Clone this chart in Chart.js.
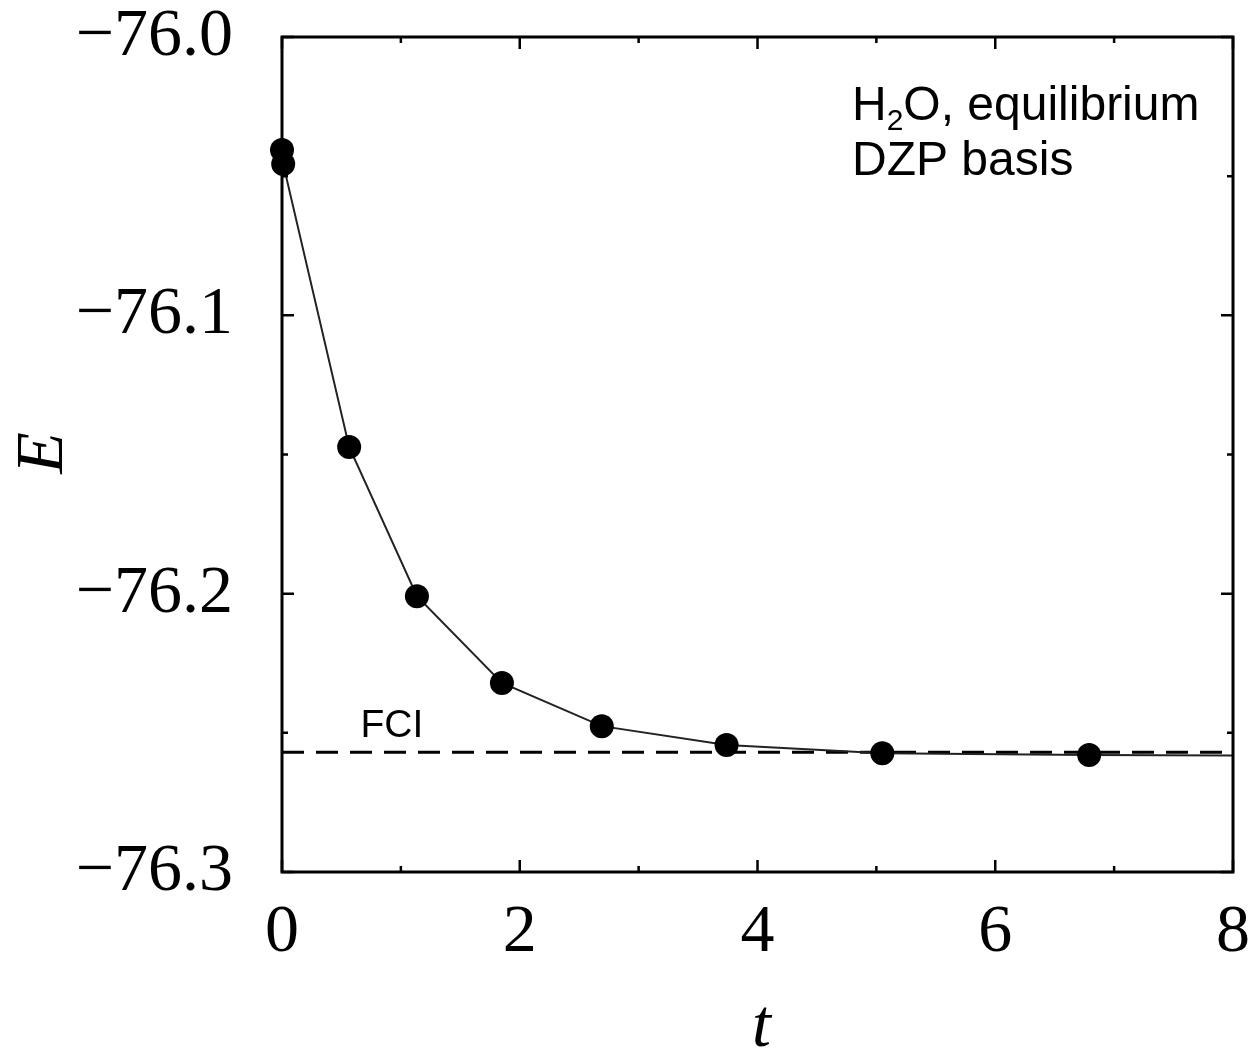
<!DOCTYPE html>
<html>
<head>
<meta charset="utf-8">
<script src="https://cdn.jsdelivr.net/npm/chart.js@4.4.1/dist/chart.umd.min.js"></script>
<style>
  html, body { margin: 0; padding: 0; background: #fff; }
  #wrap { width: 1251px; height: 1051px; }
</style>
</head>
<body>
<div id="wrap"><canvas id="energyChart" width="1251" height="1051"></canvas></div>
<script>
// energy vs t, H2O at equilibrium geometry (DZP)
const tValues = [0.0, 0.01, 0.565, 1.135, 1.85, 2.69, 3.74, 5.05, 6.79, 8.0];
const energies = [-76.0406, -76.0456, -76.1473, -76.2009, -76.2321, -76.2476, -76.2544, -76.2573, -76.2580, -76.2581];
const markerShown = [1, 1, 1, 1, 1, 1, 1, 1, 1, 0];
const fciEnergy = -76.2570;
const fciRange = [0, 8];
const xTicks = [0, 2, 4, 6, 8];
const yTicks = [-76.0, -76.1, -76.2, -76.3];

const serif = "'Liberation Serif', 'Times New Roman', serif";
const sans = "'Liberation Sans', Arial, sans-serif";

function fmtE(v) {
	return v.toFixed(1).replace("-", "\u2212");
}

// frame with inward ticks on all four sides
const framePlugin = {
	id: "frame",
	afterDraw(chart) {
		const { ctx, chartArea: a, scales } = chart;
		const xs = scales.x, ys = scales.y;
		ctx.save();
		ctx.strokeStyle = "#000";
		ctx.lineWidth = 2.5;
		for (let t = 0; t <= 8; t += 1) {
			const px = xs.getPixelForValue(t);
			const len = t % 2 === 0 ? 12 : 6;
			ctx.beginPath();
			ctx.moveTo(px, a.bottom);
			ctx.lineTo(px, a.bottom - len);
			ctx.moveTo(px, a.top);
			ctx.lineTo(px, a.top + len);
			ctx.stroke();
		}
		for (let k = 0; k <= 6; k++) {
			const v = -76.0 - k * 0.05;
			const py = ys.getPixelForValue(v);
			const len = k % 2 === 0 ? 12 : 6;
			ctx.beginPath();
			ctx.moveTo(a.left, py);
			ctx.lineTo(a.left + len, py);
			ctx.moveTo(a.right, py);
			ctx.lineTo(a.right - len, py);
			ctx.stroke();
		}
		ctx.lineWidth = 3;
		ctx.strokeRect(a.left, a.top, a.right - a.left, a.bottom - a.top);

		// axis titles
		ctx.fillStyle = "#000";
		ctx.font = "italic 68px " + serif;
		ctx.textAlign = "center";
		ctx.textBaseline = "alphabetic";
		ctx.fillText("t", (a.left + a.right) / 2 + 4, 1046);
		ctx.save();
		ctx.translate(62, 453);
		ctx.rotate(-Math.PI / 2);
		ctx.fillText("E", 0, 0);
		ctx.restore();

		// FCI label
		ctx.font = "39px " + sans;
		ctx.textAlign = "left";
		ctx.fillText("FCI", xs.getPixelForValue(0.66), ys.getPixelForValue(fciEnergy) - 15);

		// system note
		const nx = a.left + 570;
		ctx.font = "48px " + sans;
		let x = nx;
		ctx.fillText("H", x, a.top + 83);
		x += ctx.measureText("H").width;
		ctx.font = "30px " + sans;
		ctx.fillText("2", x, a.top + 93);
		x += ctx.measureText("2").width;
		ctx.font = "48px " + sans;
		ctx.fillText("O, equilibrium", x, a.top + 83);
		ctx.fillText("DZP basis", nx, a.top + 138);
		ctx.restore();
	},
};

new Chart(document.getElementById("energyChart"), {
	type: "scatter",
	data: {
		datasets: [
			{
				data: tValues.map((t, i) => ({ x: t, y: energies[i] })),
				showLine: true,
				borderColor: "#222",
				borderWidth: 2,
				tension: 0,
				pointRadius: markerShown.map((m) => (m ? 12 : 0)),
				pointBackgroundColor: "#000",
				pointBorderWidth: 0,
				clip: false,
			},
			{
				data: fciRange.map((t) => ({ x: t, y: fciEnergy })),
				showLine: true,
				borderColor: "#000",
				borderWidth: 3,
				borderDash: [22, 12],
				pointRadius: 0,
			},
		],
	},
	options: {
		responsive: false,
		animation: false,
		layout: { padding: { top: 37, right: 18, left: 0, bottom: 0 } },
		plugins: { legend: { display: false }, tooltip: { enabled: false } },
		scales: {
			x: {
				type: "linear",
				min: 0,
				max: 8,
				afterFit: (s) => {
					s.height = 179;
					s.paddingLeft = 0;
					s.paddingRight = 0;
				},
				afterBuildTicks: (s) => { s.ticks = xTicks.map((v) => ({ value: v })); },
				grid: { display: false, drawTicks: false },
				border: { display: false },
				ticks: {
					color: "#000",
					padding: 20,
					maxRotation: 0,
					font: { family: serif, size: 68 },
					callback: (v) => String(v),
				},
			},
			y: {
				type: "linear",
				min: -76.3,
				max: -76.0,
				afterFit: (s) => {
					s.width = 282;
					s.paddingTop = 0;
					s.paddingBottom = 0;
				},
				afterBuildTicks: (s) => { s.ticks = yTicks.map((v) => ({ value: v })); },
				grid: { display: false, drawTicks: false },
				border: { display: false },
				ticks: {
					color: "#000",
					padding: 49,
					font: { family: serif, size: 68 },
					callback: (v) => fmtE(v),
				},
			},
		},
	},
	plugins: [framePlugin],
});
</script>
</body>
</html>
